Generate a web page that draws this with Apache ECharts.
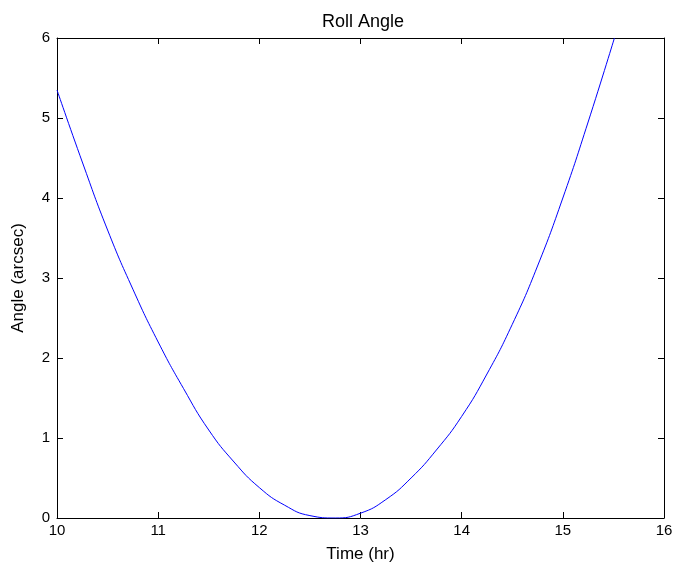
<!DOCTYPE html>
<html>
<head>
<meta charset="utf-8">
<script src="https://cdn.jsdelivr.net/npm/echarts@6/dist/echarts.min.js"></script>
<style>
  html, body { margin: 0; padding: 0; background: #fff; }
  #chart { width: 677px; height: 571px; }
</style>
</head>
<body>
<div id="chart"></div>
<script>
// values
const timeHr = [10.0, 10.25, 10.5, 10.75, 11.0, 11.25, 11.5, 11.75, 12.0, 12.25, 12.5, 12.75,
  13.0, 13.25, 13.5, 13.75, 14.0, 14.25, 14.5, 14.75, 15.0, 15.25, 15.51];
const angleArcsec = [5.35, 4.45, 3.6, 2.86, 2.2, 1.62, 1.1, 0.7, 0.38, 0.16, 0.03, 0.0,
  0.06, 0.23, 0.5, 0.85, 1.27, 1.8, 2.42, 3.15, 4.0, 4.95, 6.0];
const xTicks = [10, 11, 12, 13, 14, 15, 16];
const yTicks = [0, 1, 2, 3, 4, 5, 6];

const font = 'Liberation Sans, Arial, sans-serif';
const points = timeHr.map((t, i) => [t, angleArcsec[i]]);

const chart = echarts.init(document.getElementById('chart'), null, { renderer: 'canvas' });

const axisCommon = {
  type: 'value',
  interval: 1,
  axisLine: { show: true, onZero: false, lineStyle: { color: '#000', width: 1 } },
  axisTick: { show: true, inside: true, length: 6, lineStyle: { color: '#000' } },
  splitLine: { show: false },
};

chart.setOption({
  animation: false,
  backgroundColor: '#fff',
  title: {
    text: 'Roll Angle',
    left: 358,
    textAlign: 'center',
    top: 8,
    textStyle: { fontFamily: font, fontSize: 18, fontWeight: 'normal', color: '#000' },
  },
  grid: { left: 57, right: 13, top: 38, bottom: 53 },
  xAxis: [
    Object.assign({}, axisCommon, {
      position: 'bottom',
      min: xTicks[0],
      max: xTicks[xTicks.length - 1],
      name: 'Time (hr)',
      nameLocation: 'middle',
      nameGap: 28,
      nameTextStyle: { fontFamily: font, fontSize: 17, color: '#000' },
      axisLabel: { fontFamily: font, fontSize: 15, color: '#000', margin: 5 },
    }),
    Object.assign({}, axisCommon, {
      position: 'top',
      min: xTicks[0],
      max: xTicks[xTicks.length - 1],
      axisLabel: { show: false },
    }),
  ],
  yAxis: [
    Object.assign({}, axisCommon, {
      position: 'left',
      min: yTicks[0],
      max: yTicks[yTicks.length - 1],
      name: 'Angle (arcsec)',
      nameLocation: 'middle',
      nameGap: 30,
      nameRotate: 90,
      nameTextStyle: { fontFamily: font, fontSize: 17, color: '#000' },
      axisLabel: { fontFamily: font, fontSize: 15, color: '#000', margin: 7 },
    }),
    Object.assign({}, axisCommon, {
      position: 'right',
      min: yTicks[0],
      max: yTicks[yTicks.length - 1],
      axisLabel: { show: false },
    }),
  ],
  series: [{
    type: 'line',
    data: points,
    xAxisIndex: 0,
    yAxisIndex: 0,
    showSymbol: false,
    smooth: 0.5,
    clip: true,
    lineStyle: { color: '#0000ff', width: 1 },
  }],
});
</script>
</body>
</html>
